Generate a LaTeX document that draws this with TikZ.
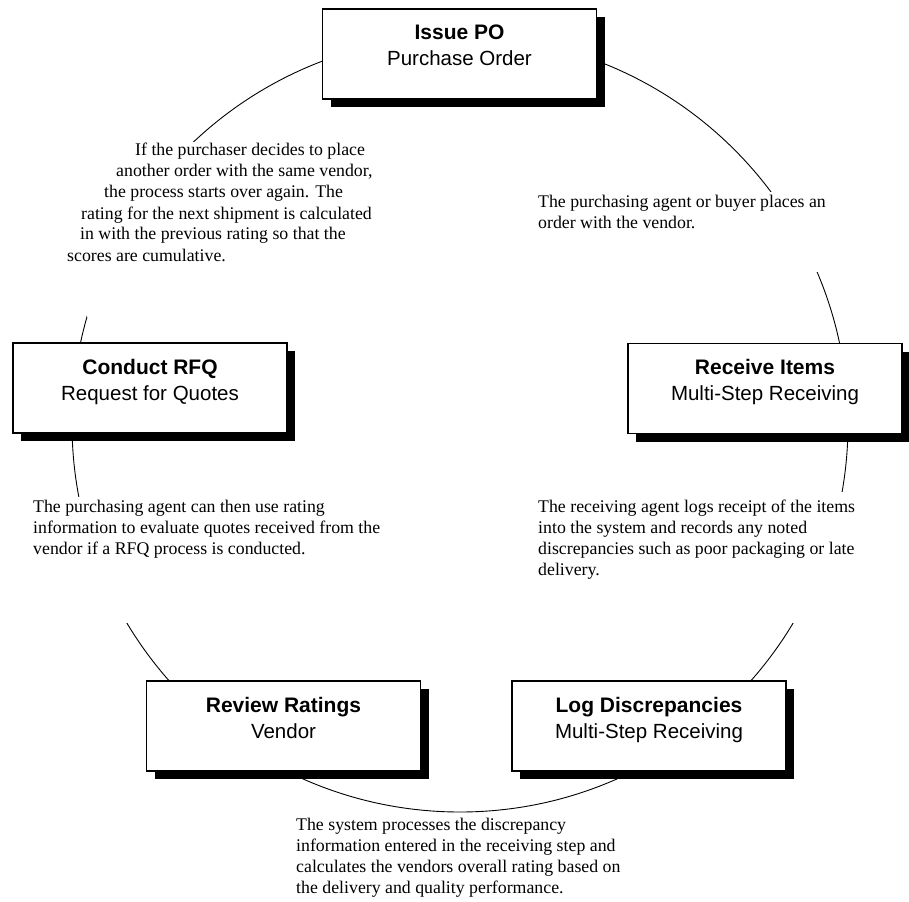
\documentclass[tikz,border=0pt]{standalone}
\usepackage{fontspec}
\setmainfont{Liberation Serif}
\newfontfamily\boxfont{Liberation Sans}
\usetikzlibrary{shadows}
\begin{document}
\begin{tikzpicture}[x=1pt,y=-1pt,
  stepbox/.style={draw, line width=1.8pt, fill=white, minimum width=274pt, minimum height=90pt,
    outer sep=0pt, inner sep=0pt,
    drop shadow={shadow xshift=8pt, shadow yshift=-8pt, opacity=1, fill=black}},
  ttl/.style={anchor=base, inner sep=0pt, font=\boxfont\bfseries\fontsize{21}{25}\selectfont},
  subttl/.style={anchor=base, inner sep=0pt, font=\boxfont\fontsize{20.5}{25}\selectfont},
  note/.style={anchor=base west, inner sep=0pt, font=\fontsize{17.8}{21}\selectfont},
  whiteout/.style={fill=white, draw=none}
]
\useasboundingbox (0,0) rectangle (909,901);

% cycle ring
\node[circle, draw, line width=0.9pt, minimum size=776pt, inner sep=0pt, outer sep=0pt] (ring) at (460,424) {};

% text frames hiding the ring
\fill[whiteout] (87,142) rectangle (385,317);
\fill[whiteout] (530,192) rectangle (820,272);
\fill[whiteout] (25,497) rectangle (395,623);
\fill[whiteout] (530,492) rectangle (860,623);

% process boxes
\node[stepbox] (po)  at (459.5,54) {};
\node[stepbox] (rfq) at (150,388) {};
\node[stepbox] (ri)  at (765,388.5) {};
\node[stepbox] (rr)  at (283.5,726) {};
\node[stepbox] (ld)  at (649,726) {};

\node[ttl]    (po-t)  at ([yshift=-31pt]po.north)  {Issue PO};
\node[subttl] (po-s)  at ([yshift=-57pt]po.north)  {Purchase Order};
\node[ttl]    (rfq-t) at ([yshift=-31pt]rfq.north) {Conduct RFQ};
\node[subttl] (rfq-s) at ([yshift=-57pt]rfq.north) {Request for Quotes};
\node[ttl]    (ri-t)  at ([yshift=-31pt]ri.north)  {Receive Items};
\node[subttl] (ri-s)  at ([yshift=-57pt]ri.north)  {Multi-Step Receiving};
\node[ttl]    (rr-t)  at ([yshift=-31pt]rr.north)  {Review Ratings};
\node[subttl] (rr-s)  at ([yshift=-57pt]rr.north)  {Vendor};
\node[ttl]    (ld-t)  at ([yshift=-31pt]ld.north)  {Log Discrepancies};
\node[subttl] (ld-s)  at ([yshift=-57pt]ld.north)  {Multi-Step Receiving};

% annotations
\node[note] (tl1) at (135,156) {If the purchaser decides to place};
\node[note] (tl2) at (116,177) {another order with the same vendor,};
\node[note] (tl3) at (104,198) {the process starts over again. The};
\node[note] (tl4) at (81,219)  {rating for the next shipment is calculated};
\node[note] (tl5) at (80,240)  {in with the previous rating so that the};
\node[note] (tl6) at (67,261)  {scores are cumulative.};

\node[note] (tr1) at (538,208) {The purchasing agent or buyer places an};
\node[note] (tr2) at (538,229) {order with the vendor.};

\node[note] (lm1) at (33,512) {The purchasing agent can then use rating};
\node[note] (lm2) at (33,533) {information to evaluate quotes received from the};
\node[note] (lm3) at (33,554) {vendor if a RFQ process is conducted.};

\node[note] (rm1) at (538,512) {The receiving agent logs receipt of the items};
\node[note] (rm2) at (538,533) {into the system and records any noted};
\node[note] (rm3) at (538,554) {discrepancies such as poor packaging or late};
\node[note] (rm4) at (538,575) {delivery.};

\node[note] (bt1) at (296,830) {The system processes the discrepancy};
\node[note] (bt2) at (296,851) {information entered in the receiving step and};
\node[note] (bt3) at (296,872) {calculates the vendors overall rating based on};
\node[note] (bt4) at (296,893) {the delivery and quality performance.};
\end{tikzpicture}
\end{document}
